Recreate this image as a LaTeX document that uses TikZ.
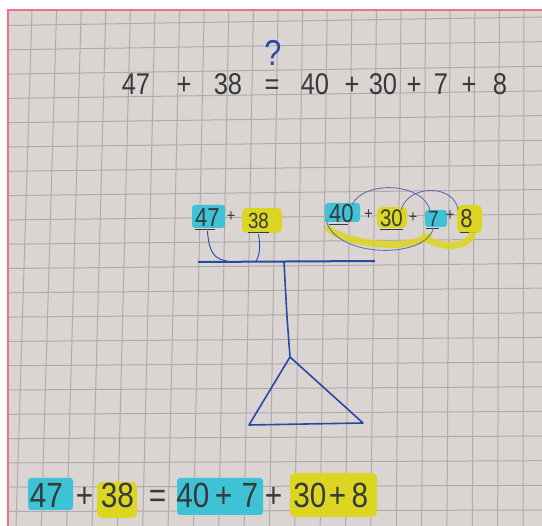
\documentclass[tikz,border=0pt]{standalone}
\usepackage{fontspec}
\setmainfont{Liberation Sans}
\newfontfamily\hand[FakeStretch=0.85]{Liberation Sans}
\usepackage{xcolor}
\usepackage{tikz}
\usetikzlibrary{positioning}

\definecolor{paper}{RGB}{218,213,211}
\definecolor{gridgrey}{RGB}{176,171,170}
\definecolor{margin}{RGB}{240,112,132}
\definecolor{pencil}{RGB}{55,58,58}
\definecolor{ink}{RGB}{40,72,168}
\definecolor{thinink}{RGB}{95,115,175}
\definecolor{hlcyan}{RGB}{62,194,214}
\definecolor{hlyellow}{RGB}{220,214,34}

\begin{document}
\begin{tikzpicture}[x=1pt, y=-1pt,
        bigtext/.style={anchor=base, inner sep=0pt, text=pencil,
                        font=\hand\fontsize{30}{30}\selectfont},
        hugetext/.style={anchor=base, inner sep=0pt, text=pencil,
                         font=\hand\fontsize{35}{35}\selectfont},
        pantext/.style={anchor=base, inner sep=0pt, text=pencil,
                        font=\hand\fontsize{26}{26}\selectfont},
        pansign/.style={anchor=base, inner sep=0pt, text=pencil,
                        font=\hand\fontsize{17}{17}\selectfont},
        cyanmark/.style={fill=hlcyan, rounded corners=3pt},
        yellowmark/.style={fill=hlyellow, rounded corners=5pt},
        underline/.style={draw=pencil, line width=0.8pt},
        thread/.style={draw=thinink, line width=0.9pt},
        marker/.style={draw=hlyellow, line width=7pt, line cap=round, opacity=0.85},
        balance/.style={draw=ink, line width=1.6pt, line join=round}]

        % sheet of squared paper (photo is a bit skewed)
        \useasboundingbox (0,0) rectangle (542,526);
        \fill[white] (0,0) rectangle (542,526);
        \fill[paper] (8,10) rectangle (542,526);
        \begin{scope}
            \clip (8,10) rectangle (542,526);
            \foreach \k in {0,...,21} {
                \draw[gridgrey, line width=1pt] (32+24.6*\k,10) -- (16+25.35*\k,526);
                \draw[gridgrey, line width=1pt] (8,25.5+24.3*\k) -- (542,17+24.65*\k);
            }
        \end{scope}
        \draw[margin, line width=1.2pt] (8,526) -- (8,10) -- (542,10);

        % question on top
        \node[bigtext] (t47)    at (136,95)   {47};
        \node[bigtext] (tplus1) at (184,95)   {+};
        \node[bigtext] (t38)    at (228,95)   {38};
        \node[bigtext] (teq)    at (272,95)   {=};
        \node[bigtext] (t40)    at (315,95)   {40};
        \node[bigtext] (tplus2) at (352,95)   {+};
        \node[bigtext] (t30)    at (383,95)   {30};
        \node[bigtext] (tplus3) at (414,95)   {+};
        \node[bigtext] (t7)     at (441,95)   {7};
        \node[bigtext] (tplus4) at (469,95)   {+};
        \node[bigtext] (t8)     at (500,95)   {8};
        \node[anchor=base, inner sep=0pt, text=ink,
              font=\hand\fontsize{36}{36}\selectfont] (tq) at (273,66) {?};

        % highlighter under the pans
        \fill[cyanmark]   (192,205) rectangle (225,228);
        \fill[yellowmark] (242,208) rectangle (282,233);
        \fill[cyanmark]   (325,203) rectangle (360,222);
        \fill[yellowmark] (377,207) rectangle (407,228);
        \fill[cyanmark]   (425,210) rectangle (447,227);
        \fill[yellowmark] (457,205) rectangle (482,233);

        % left pan
        \node[pantext] (m47)    at (207.5,227) {47};
        \node[pansign] (mplus1) at (231,222)   {+};
        \node[pantext, font=\hand\fontsize{22}{22}\selectfont] (m38) at (258.5,229) {38};

        % right pan
        \node[pantext] (m40)    at (341.5,223) {40};
        \node[pansign] (mplus2) at (368.5,220) {+};
        \node[pantext, font=\hand\fontsize{24}{24}\selectfont] (m30) at (391.5,227) {30};
        \node[pansign] (mplus3) at (413,223)   {+};
        \node[pantext, font=\hand\fontsize{22}{22}\selectfont] (m7) at (433.5,227) {7};
        \node[pansign] (mplus4) at (450,221)   {+};
        \node[pantext] (m8)     at (466.5,228) {8};

        \draw[underline] ([yshift=-2pt]m47.south west) -- ([yshift=-2pt,xshift=-5pt]m47.south east);
        \draw[underline] ([yshift=-3pt]m38.south west) -- ([yshift=-3pt]m38.south east);
        \draw[underline] ([yshift=-1pt]m40.south west) -- ([yshift=-1pt,xshift=-6pt]m40.south east);
        \draw[underline] ([yshift=-2pt]m30.south west) -- ([yshift=-2pt]m30.south east);
        \draw[underline] ([yshift=-1pt,xshift=-2pt]m7.south west) -- ([yshift=-1pt]m7.south east);
        \draw[underline] ([yshift=-4pt]m8.south west) -- ([yshift=-4pt,xshift=2pt]m8.south east);

        % loops pairing tens and ones
        \draw[marker] ([xshift=-1pt,yshift=-5pt]m40.south west) .. controls (350,246) and (412,250) .. ([yshift=-9pt]m7.south west);
        \draw[marker] ([xshift=-4pt,yshift=-10pt]m7.south west) .. controls (442,250) and (472,248) .. ([yshift=-2pt]m8.south east);
        \draw[thread] ([xshift=-3pt,yshift=4pt]m40.south west) .. controls (334,258) and (425,260) .. ([yshift=-1pt]m7.south);
        \draw[thread] ([xshift=-2pt]m40.north east) .. controls (364,180) and (424,182) .. ([xshift=-3pt]m7.north);
        \draw[thread] ([xshift=-2pt]m30.north east) .. controls (408,184) and (454,184) .. ([xshift=-2pt]m8.north west);

        % the balance
        \coordinate (beamL) at (198,262);
        \coordinate (beamR) at (375,261);
        \coordinate (pivot) at (284,262);
        \coordinate (hookA) at (227,261);
        \coordinate (hookB) at (256,261);
        \coordinate (hinge) at (290,357);
        \coordinate (baseL) at (249,425);
        \coordinate (baseR) at (363,423);

        \draw[balance, line width=2pt] (beamL) -- (beamR);
        \draw[thread, draw=ink] ([yshift=-4pt]m47.south) .. controls (209,252) and (214,259) .. (hookA);
        \draw[thread, draw=ink] ([yshift=-5pt]m38.south) .. controls (261,248) and (259,257) .. (hookB);
        \draw[balance] (pivot) -- (287,317) -- (hinge);
        \draw[balance] (hinge) -- (baseL) -- (baseR) -- cycle;

        % answer at the bottom
        \fill[cyanmark]   (28,478)  rectangle (73,510);
        \fill[yellowmark] (97,482)  rectangle (137,518);
        \fill[cyanmark]   (177,478) rectangle (263,515);
        \fill[yellowmark] (290,473) rectangle (377,517);

        \node[hugetext] (b47)    at (46.5,508)  {47};
        \node[hugetext] (bplus1) at (84.5,508)  {+};
        \node[hugetext] (b38)    at (117.5,508) {38};
        \node[hugetext] (beq)    at (157.5,508) {=};
        \node[hugetext] (b40)    at (193,508)   {40};
        \node[hugetext] (bplus2) at (223.5,508) {+};
        \node[hugetext] (b7)     at (250,508)   {7};
        \node[hugetext] (bplus3) at (273.5,508) {+};
        \node[hugetext] (b30)    at (310,508)   {30};
        \node[hugetext] (bplus4) at (337.5,508) {+};
        \node[hugetext] (b8)     at (360,508)   {8};
    \end{tikzpicture}
\end{document}
